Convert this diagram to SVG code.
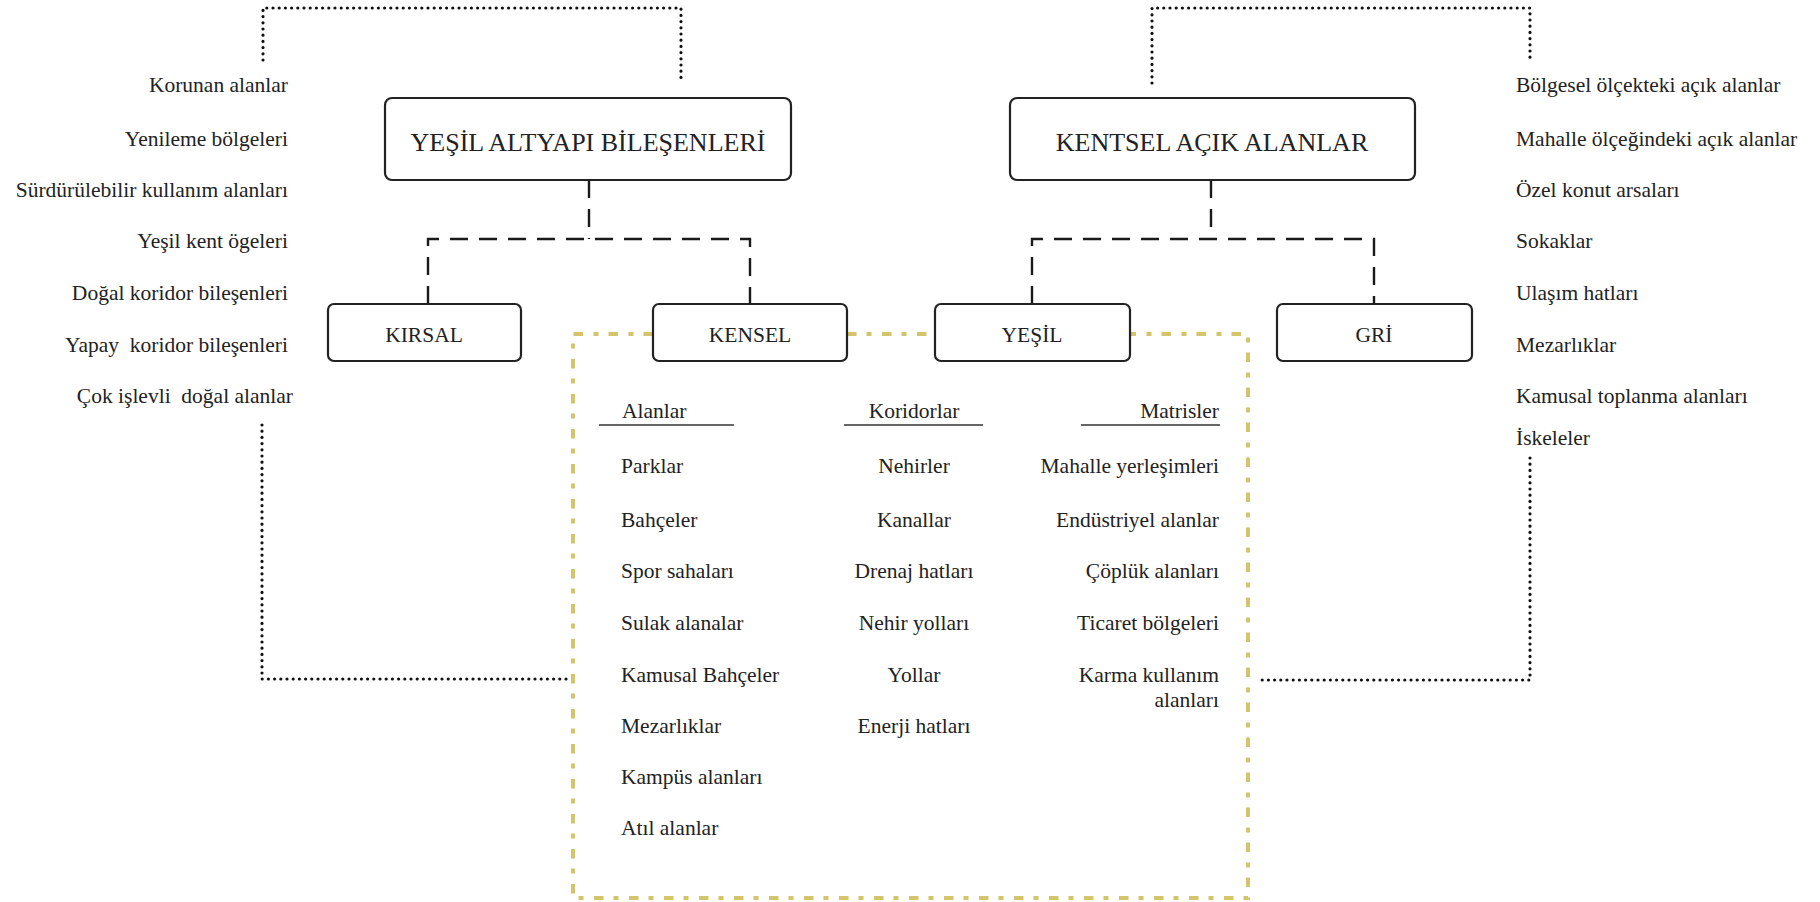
<svg xmlns="http://www.w3.org/2000/svg" width="1820" height="902" viewBox="0 0 1820 902" font-family="'Liberation Serif', 'DejaVu Serif', serif">
  <style>
    text { font-family: "Liberation Serif", "DejaVu Serif", serif; fill: #222; }
    .title { font-size: 26px; text-anchor: middle; }
    .node-label { font-size: 21.5px; text-anchor: middle; }
    .item { font-size: 21.5px; }
    .end { text-anchor: end; }
    .mid { text-anchor: middle; }
    .box { fill: #fff; stroke: #222; stroke-width: 2.2; }
    .dash { fill: none; stroke: #1a1a1a; stroke-width: 2.4; stroke-dasharray: 18 11; }
    .dots { fill: none; stroke: #111; stroke-width: 3.2; stroke-dasharray: 0 6.2; stroke-linecap: round; }
    .frame { fill: none; stroke: #d4c46b; stroke-width: 4; stroke-dasharray: 9.5 10 5 10.5; }
    .rule { stroke: #333; stroke-width: 1.3; }
  </style>

  <!-- connectors -->
  <g id="connectors">
    <!-- tree links -->
    <path class="dash" d="M589 180 V239"/>
    <path class="dash" d="M428 304 V239 H750 V304"/>
    <path class="dash" d="M1211 180 V239"/>
    <path class="dash" d="M1032 304 V239 H1374 V304"/>
    <!-- urban frame around KENSEL / YEŞİL contents -->
    <path class="frame" d="M653 334 H573 V898 H1248 V334 H1130"/>
    <path class="frame" d="M847 334 H935"/>
    <!-- dotted brackets -->
    <path class="dots" d="M263 60 V8 H681 V83"/>
    <path class="dots" d="M1152 83 V8 H1530 V60"/>
    <path class="dots" d="M262 425 V679 H571"/>
    <path class="dots" d="M1530 458 V680 H1258"/>
  </g>

  <!-- main nodes -->
  <g id="node-yab">
    <rect class="box" x="385" y="98" width="406" height="82" rx="7"/>
    <text class="title" x="588" y="151">YEŞİL ALTYAPI BİLEŞENLERİ</text>
  </g>
  <g id="node-kaa">
    <rect class="box" x="1010" y="98" width="405" height="82" rx="7"/>
    <text class="title" x="1212" y="151">KENTSEL AÇIK ALANLAR</text>
  </g>

  <!-- sub nodes -->
  <g id="node-kirsal">
    <rect class="box" x="328" y="304" width="193" height="57" rx="6"/>
    <text class="node-label" x="424" y="342">KIRSAL</text>
  </g>
  <g id="node-kensel">
    <rect class="box" x="653" y="304" width="194" height="57" rx="6"/>
    <text class="node-label" x="750" y="342">KENSEL</text>
  </g>
  <g id="node-yesil">
    <rect class="box" x="935" y="304" width="195" height="57" rx="6"/>
    <text class="node-label" x="1032" y="342">YEŞİL</text>
  </g>
  <g id="node-gri">
    <rect class="box" x="1277" y="304" width="195" height="57" rx="6"/>
    <text class="node-label" x="1374" y="342">GRİ</text>
  </g>

  <!-- green infrastructure components list -->
  <g id="list-left">
    <text class="item end" x="288" y="92">Korunan alanlar</text>
    <text class="item end" x="288" y="146">Yenileme bölgeleri</text>
    <text class="item end" x="288" y="197">Sürdürülebilir kullanım alanları</text>
    <text class="item end" x="288" y="248">Yeşil kent ögeleri</text>
    <text class="item end" x="288" y="300">Doğal koridor bileşenleri</text>
    <text class="item end" x="288" y="352" xml:space="preserve">Yapay  koridor bileşenleri</text>
    <text class="item end" x="293" y="403" xml:space="preserve">Çok işlevli  doğal alanlar</text>
  </g>

  <!-- urban open spaces list -->
  <g id="list-right">
    <text class="item" x="1516" y="92">Bölgesel ölçekteki açık alanlar</text>
    <text class="item" x="1516" y="146">Mahalle ölçeğindeki açık alanlar</text>
    <text class="item" x="1516" y="197">Özel konut arsaları</text>
    <text class="item" x="1516" y="248">Sokaklar</text>
    <text class="item" x="1516" y="300">Ulaşım hatları</text>
    <text class="item" x="1516" y="352">Mezarlıklar</text>
    <text class="item" x="1516" y="403">Kamusal toplanma alanları</text>
    <text class="item" x="1516" y="445">İskeleler</text>
  </g>

  <!-- column: Alanlar -->
  <g id="col-alanlar">
    <text class="item" x="622" y="418">Alanlar</text>
    <line class="rule" x1="599" y1="425" x2="734" y2="425"/>
    <text class="item" x="621" y="473">Parklar</text>
    <text class="item" x="621" y="527">Bahçeler</text>
    <text class="item" x="621" y="578">Spor sahaları</text>
    <text class="item" x="621" y="630">Sulak alanalar</text>
    <text class="item" x="621" y="682">Kamusal Bahçeler</text>
    <text class="item" x="621" y="733">Mezarlıklar</text>
    <text class="item" x="621" y="784">Kampüs alanları</text>
    <text class="item" x="621" y="835">Atıl alanlar</text>
  </g>

  <!-- column: Koridorlar -->
  <g id="col-koridorlar">
    <text class="item mid" x="914" y="418">Koridorlar</text>
    <line class="rule" x1="844" y1="425" x2="983" y2="425"/>
    <text class="item mid" x="914" y="473">Nehirler</text>
    <text class="item mid" x="914" y="527">Kanallar</text>
    <text class="item mid" x="914" y="578">Drenaj hatları</text>
    <text class="item mid" x="914" y="630">Nehir yolları</text>
    <text class="item mid" x="914" y="682">Yollar</text>
    <text class="item mid" x="914" y="733">Enerji hatları</text>
  </g>

  <!-- column: Matrisler -->
  <g id="col-matrisler">
    <text class="item end" x="1219" y="418">Matrisler</text>
    <line class="rule" x1="1081" y1="425" x2="1220" y2="425"/>
    <text class="item end" x="1219" y="473">Mahalle yerleşimleri</text>
    <text class="item end" x="1219" y="527">Endüstriyel alanlar</text>
    <text class="item end" x="1219" y="578">Çöplük alanları</text>
    <text class="item end" x="1219" y="630">Ticaret bölgeleri</text>
    <text class="item end" x="1219" y="682">Karma kullanım</text>
    <text class="item end" x="1219" y="707">alanları</text>
  </g>
</svg>
